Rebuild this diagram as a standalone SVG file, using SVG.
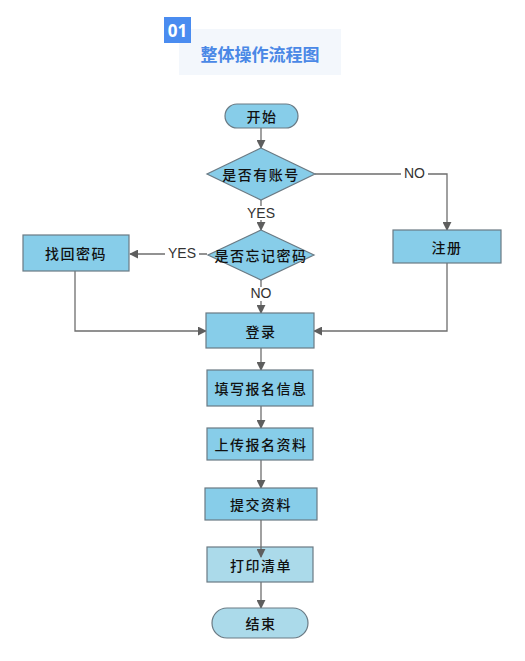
<svg xmlns="http://www.w3.org/2000/svg" width="525" height="661" viewBox="0 0 525 661">
<style>
.node{fill:#87cde9;stroke:#6a7a84;stroke-width:1.2}
.light{fill:#abdaea;stroke:#6a7a84;stroke-width:1.2}
.t{font-family:"Noto Sans CJK SC","Noto Sans",sans-serif;font-size:14px;font-weight:500;fill:#111;text-anchor:middle;dominant-baseline:central;letter-spacing:1.5px}
.lbl{font-family:"Liberation Sans",Arial,sans-serif;font-size:14px;fill:#333;text-anchor:middle;dominant-baseline:central}
.c{fill:none;stroke:#6e6e6e;stroke-width:1.3}
.bg{fill:#ffffff}
</style>
<defs>
<marker id="arr" viewBox="0 0 10 10" refX="9" refY="5" markerWidth="9" markerHeight="9" markerUnits="userSpaceOnUse" orient="auto">
<path d="M0,0 L10,5 L0,10 z" fill="#5e5e5e"/>
</marker>
</defs>
<rect width="525" height="661" fill="#ffffff"/>
<g id="title">
<rect x="179" y="29" width="162" height="46" fill="#f3f7fc"/>
<rect x="164" y="17" width="27" height="26" fill="#4a8cf0"/>
<text x="177.5" y="30.5" font-family="'Noto Sans','DejaVu Sans',sans-serif" font-size="17" font-weight="bold" fill="#ffffff" text-anchor="middle" dominant-baseline="central">01</text>
<text x="260" y="53" font-family="'Noto Sans CJK SC',sans-serif" font-size="17" font-weight="bold" fill="#4a88e6" text-anchor="middle" dominant-baseline="central">整体操作流程图</text>
</g>
<g id="connectors">
<path class="c" d="M261,128 V148" marker-end="url(#arr)"/>
<path class="c" d="M261,200 V230" marker-end="url(#arr)"/>
<path class="c" d="M315,174 H447 V230" marker-end="url(#arr)"/>
<path class="c" d="M207,254 H130" marker-end="url(#arr)"/>
<path class="c" d="M261,280 V313" marker-end="url(#arr)"/>
<path class="c" d="M75,271 V331 H206" marker-end="url(#arr)"/>
<path class="c" d="M447,263 V331 H314" marker-end="url(#arr)"/>
<path class="c" d="M261,348 V370" marker-end="url(#arr)"/>
<path class="c" d="M261,406 V428" marker-end="url(#arr)"/>
<path class="c" d="M261,460 V488" marker-end="url(#arr)"/>
<path class="c" d="M261,582 V608" marker-end="url(#arr)"/>
<rect class="bg" x="244" y="206" width="34" height="14"/>
<text class="lbl" x="261" y="213">YES</text>
<rect class="bg" x="401" y="167" width="27" height="14"/>
<text class="lbl" x="414.5" y="173">NO</text>
<rect class="bg" x="165" y="247" width="34" height="14"/>
<text class="lbl" x="182" y="253">YES</text>
<rect class="bg" x="248" y="287" width="27" height="14"/>
<text class="lbl" x="261" y="293">NO</text>
</g>
<g id="start">
<rect class="node" x="225" y="104" width="73" height="24" rx="12" ry="12"/>
<text class="t" x="262" y="116">开始</text>
</g>
<g id="hasAccount">
<polygon class="node" points="261,148 315,174 261,200 207,174"/>
<text class="t" x="261" y="174">是否有账号</text>
</g>
<g id="forgot">
<polygon class="node" points="261,230 314,255 261,280 208,255"/>
<text class="t" x="261" y="255">是否忘记密码</text>
</g>
<g id="recover">
<rect class="node" x="23" y="235" width="106" height="36"/>
<text class="t" x="76" y="253">找回密码</text>
</g>
<g id="register">
<rect class="node" x="393" y="230" width="108" height="33"/>
<text class="t" x="447" y="246.5">注册</text>
</g>
<g id="login">
<rect class="node" x="206" y="313" width="108" height="35"/>
<text class="t" x="261" y="330.5">登录</text>
</g>
<g id="fill">
<rect class="node" x="207" y="370" width="106" height="36"/>
<text class="t" x="261" y="388">填写报名信息</text>
</g>
<g id="upload">
<rect class="node" x="207" y="428" width="106" height="32"/>
<text class="t" x="261" y="444">上传报名资料</text>
</g>
<g id="submit">
<rect class="node" x="205" y="488" width="112" height="32"/>
<text class="t" x="261" y="504">提交资料</text>
</g>
<g id="print">
<rect class="light" x="207" y="547" width="106" height="35"/>
<path class="c" d="M261,520 V557" marker-end="url(#arr)"/>
<text class="t" x="261" y="564.5">打印清单</text>
</g>
<g id="end">
<rect class="light" x="212" y="608" width="96" height="30" rx="15" ry="15"/>
<text class="t" x="261" y="623">结束</text>
</g>
</svg>
